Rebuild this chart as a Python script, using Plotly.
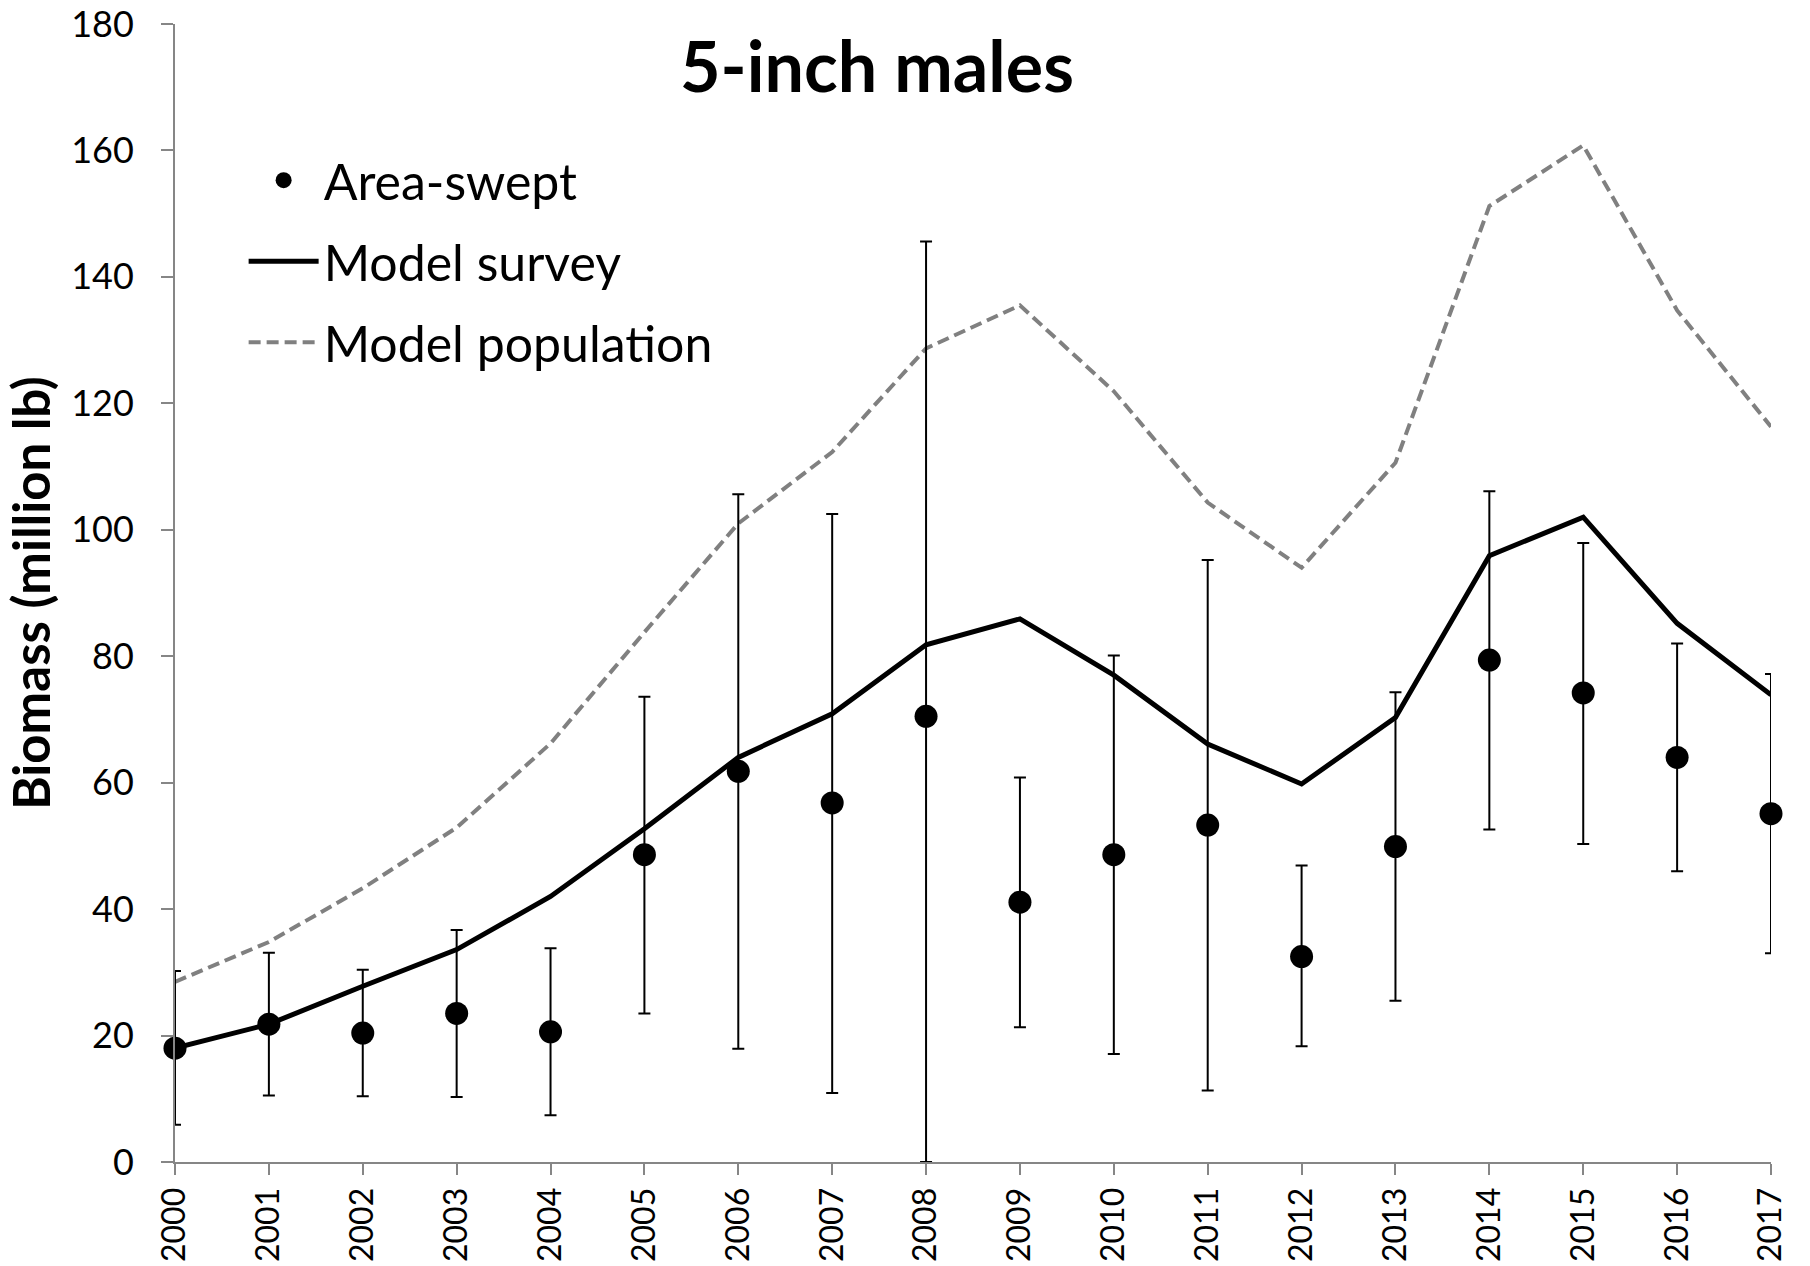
import plotly.graph_objects as go

years = list(range(2000, 2018))
area_swept = [18.0, 21.8, 20.4, 23.5, 20.6, 48.6, 61.8, 56.8, 70.5, 41.1, 48.6, 53.3, 32.5, 49.9, 79.4, 74.2, 64.0, 55.1]
ci_upper = [30.2, 33.1, 30.4, 36.7, 33.8, 73.6, 105.6, 102.5, 145.6, 60.8, 80.1, 95.2, 46.9, 74.3, 106.1, 97.9, 82.0, 77.2]
ci_lower = [5.9, 10.5, 10.4, 10.3, 7.4, 23.5, 17.9, 10.9, 0.0, 21.3, 17.1, 11.3, 18.3, 25.5, 52.6, 50.3, 46.0, 33.0]
model_survey = [18.0, 21.8, 27.8, 33.6, 42.0, 52.7, 64.0, 70.9, 81.8, 85.9, 77.0, 66.1, 59.8, 70.3, 95.9, 102.0, 85.2, 73.9]
model_population = [28.5, 34.8, 43.3, 52.9, 66.2, 83.8, 101.0, 112.3, 128.7, 135.5, 121.9, 104.3, 94.0, 110.6, 151.2, 160.8, 134.7, 116.3]
y_ticks = [0, 20, 40, 60, 80, 100, 120, 140, 160, 180]

FONT = "Lato"
AXIS_GREY = "#868686"

err_plus = [u - v for u, v in zip(ci_upper, area_swept)]
err_minus = [v - l for v, l in zip(area_swept, ci_lower)]

fig = go.Figure()

fig.add_trace(go.Scatter(
    x=years, y=model_population, mode="lines", name="Model population",
    line=dict(color="#808080", width=4, dash="12px,6px"),
    legendrank=3, legendgroup="c", cliponaxis=False,
))
fig.add_trace(go.Scatter(
    x=years, y=model_survey, mode="lines", name="Model survey",
    line=dict(color="black", width=5),
    legendrank=2, legendgroup="b", cliponaxis=False,
))
fig.add_trace(go.Scatter(
    x=years, y=area_swept, mode="markers", name="Area-swept",
    marker=dict(color="black", size=23),
    error_y=dict(type="data", symmetric=False, array=err_plus, arrayminus=err_minus,
                 color="black", thickness=2, width=6),
    legendrank=1, legendgroup="a", cliponaxis=False,
))

fig.update_layout(
    width=1810, height=1266,
    margin=dict(l=175, r=39, t=24, b=104),
    paper_bgcolor="white", plot_bgcolor="white",
    font=dict(family=FONT, color="black"),
    showlegend=True,
    legend=dict(
        x=0.043, y=0.897, xanchor="left", yanchor="top",
        font=dict(family=FONT, size=50, color="black"),
        bgcolor="rgba(0,0,0,0)", tracegroupgap=13, itemwidth=70,
        traceorder="grouped",
    ),
    annotations=[dict(
        text="<b>5-inch males</b>", xref="paper", yref="paper",
        x=0.44, y=0.964, xanchor="center", yanchor="middle", showarrow=False,
        font=dict(family=FONT, size=70, color="black"),
    )],
)

fig.update_xaxes(
    range=[2000, 2017], tickmode="array", tickvals=years, ticktext=[str(y) for y in years],
    tickangle=-90, tickfont=dict(family=FONT, size=32, color="black"),
    showline=True, linecolor=AXIS_GREY, linewidth=2,
    ticks="outside", tickcolor=AXIS_GREY, tickwidth=2, ticklen=11,
    showgrid=False, zeroline=False, automargin=False,
)
fig.update_yaxes(
    range=[0, 180], tickmode="array", tickvals=y_ticks,
    tickfont=dict(family=FONT, size=36, color="black"),
    showline=True, linecolor=AXIS_GREY, linewidth=2,
    ticks="outside", tickcolor=AXIS_GREY, tickwidth=2, ticklen=12,
    ticklabelstandoff=20,
    showgrid=False, zeroline=False, automargin=False,
    title=dict(text="<b>Biomass (million lb)</b>", font=dict(family=FONT, size=51, color="black"), standoff=6),
)

fig.write_html("out.html", config={"displayModeBar": False},
               post_script="document.body.style.margin='0';")
